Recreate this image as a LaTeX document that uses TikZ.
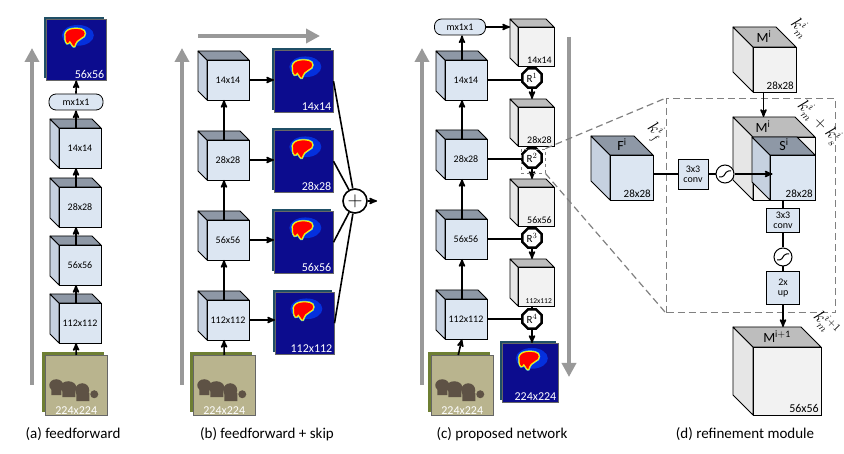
\documentclass[tikz,border=0pt]{standalone}
\usepackage{fontspec}
\setmainfont{Carlito}
\usetikzlibrary{arrows,arrows.meta,shapes.geometric}
\definecolor{cubeblue}{HTML}{DCE6F2}
\definecolor{cubebluel}{HTML}{C6D1E0}
\definecolor{cubebluet}{HTML}{8E98A6}
\definecolor{cubewhite}{HTML}{F2F2F2}
\definecolor{cubewhitel}{HTML}{E6E6E6}
\definecolor{cubewhitet}{HTML}{BDBDBD}
\definecolor{heatbg}{HTML}{0C0C8E}
\definecolor{heatedge}{HTML}{1F4F66}
\definecolor{arrowgray}{HTML}{999999}
\definecolor{photobg}{HTML}{B9B48E}
\definecolor{photoedge}{HTML}{6E7F33}
\newcommand{\cubefont}{\fontsize{10}{10}\selectfont}
% name, x, y, w, h, depth, colour, label, label anchor
\newcommand{\cube}[9]{%
  \fill[#7l,draw=black,line width=.8pt,line join=round] ({#2-#6},{#3-#6}) -- (#2,#3) -- (#2,{#3+#5}) -- ({#2-#6},{#3+#5-#6}) -- cycle;
  \fill[#7t,draw=black,line width=.8pt,line join=round] ({#2-#6},{#3-#6}) -- ({#2+#4-#6},{#3-#6}) -- ({#2+#4},#3) -- (#2,#3) -- cycle;
  \node[draw,line width=.8pt,fill=#7,anchor=north west,minimum width=#4,minimum height=#5,inner sep=0,outer sep=0] (#1) at (#2,#3) {};
  \node[anchor=#9,inner sep=2pt,font=\cubefont] at (#1.#9) {#8};
}
% name, x, y, w, h, label
\newcommand{\heat}[6]{%
  \fill[heatedge] ({#2-2},{#3-2}) rectangle ({#2+#4-2},{#3+#5-2});
  \node[fill=heatbg,draw=black!60,line width=.5pt,anchor=north west,minimum width=#4,minimum height=#5,inner sep=0] (#1) at (#2,#3) {};
  \begin{scope}[shift={(#1.center)},yshift=8pt,scale=.8]
    \fill[blue!75!cyan!70!heatbg] (2,-8) ellipse (20 and 13);
    \draw[cyan!70,line width=2pt,fill=red] (-14,-6) .. controls (-16,-16) and (-4,-18) .. (6,-16) .. controls (13,-15) and (13,-6) .. (6,-4) .. controls (2,-2) and (0,0) .. (-2,6) .. controls (-4,8) and (-6,2) .. (-8,0) .. controls (-10,4) and (-14,4) .. (-14,-6) -- cycle;
    \draw[yellow,line width=1pt,fill=red] (-14,-6) .. controls (-16,-16) and (-4,-18) .. (6,-16) .. controls (13,-15) and (13,-6) .. (6,-4) .. controls (2,-2) and (0,0) .. (-2,6) .. controls (-4,8) and (-6,2) .. (-8,0) .. controls (-10,4) and (-14,4) .. (-14,-6) -- cycle;
  \end{scope}
  \node[anchor=south east,inner sep=2pt,text=white,font=\fontsize{12}{12}\selectfont] at (#1.south east) {#6};
}
% name, x, y, w, h
\newcommand{\photo}[5]{%
  \fill[photoedge] ({#2-3},{#3-3}) rectangle ({#2+#4-3},{#3+#5-3});
  \node[fill=photobg,draw=black!60,line width=.5pt,anchor=north west,minimum width=#4,minimum height=#5,inner sep=0] (#1) at (#2,#3) {};
  \begin{scope}[shift={(#1.center)}]
    \fill[gray!55!black!80!brown] (-20,0) ellipse (7 and 6) (-8,2) ellipse (8 and 6) (6,5) ellipse (7 and 7) (18,9) ellipse (4 and 4);
    \fill[gray!55!black!80!brown] (-25,2) rectangle (-15,10) (-14,4) rectangle (-1,12) (0,8) rectangle (13,16);
  \end{scope}
  \node[anchor=south,inner sep=1pt,text=white,font=\fontsize{12}{12}\selectfont] at (#1.south) {224x224};
}
\newcommand{\sig}[2]{%
  \node[circle,draw,line width=1pt,fill=white,minimum size=18,inner sep=0] (#1) at (#2) {};
  \draw[line width=1pt,rounded corners=1.5pt] ([shift={(-6,3)}]#1.center) -- ++(4,0) -- ++(4,-6) -- ++(4,0);
}
\begin{document}
\begin{tikzpicture}[x=1pt,y=-1pt,>=stealth',
    arr/.style={->,line width=1.6pt},
    link/.style={line width=1.6pt},
    bigarr/.style={-{Triangle[length=14pt,width=14pt]},line width=4pt,arrowgray},
    pill/.style={draw,line width=.8pt,fill=cubeblue,rounded corners=7pt,minimum width=54,minimum height=16,inner sep=0,font=\cubefont},
    rnode/.style={regular polygon,regular polygon sides=8,draw,line width=2.5pt,fill=white,minimum size=21,inner sep=0,font=\fontsize{11}{11}\selectfont},
    op/.style={draw,line width=.8pt,fill=cubeblue,inner sep=1pt,align=center,font=\fontsize{10}{10}\selectfont},
    klabel/.style={rotate=-45,font=\fontsize{16}{16}\selectfont},
    caption/.style={font=\fontsize{15}{15}\selectfont}]
\useasboundingbox (0,0) rectangle (844,454);

% (a) feedforward
\coordinate (aup0) at (32,385);
\coordinate (aup1) at (32,48);
\draw[bigarr] (aup0) -- (aup1);
\heat{ah}{46}{19}{60}{61}{56x56}
\node[pill] (amx) at (76,102) {mx1x1};
\cube{a4}{59}{128}{42}{40}{9}{cubeblue}{14x14}{center}
\cube{a3}{59}{187}{42}{40}{9}{cubeblue}{28x28}{center}
\cube{a2}{59}{245}{42}{40}{9}{cubeblue}{56x56}{center}
\cube{a1}{59}{303}{42}{40}{9}{cubeblue}{112x112}{center}
\photo{aimg}{45}{355}{62}{60}
\draw[arr] (aimg.north) -- ([xshift=-4pt]a1.south);
\draw[arr] ([xshift=-4pt]a1.north) -- ([xshift=-4pt]a2.south);
\draw[arr] ([xshift=-4pt]a2.north) -- ([xshift=-4pt]a3.south);
\draw[arr] ([xshift=-4pt]a3.north) -- ([xshift=-4pt]a4.south);
\draw[arr] ([xshift=-4pt]a4.north) -- (amx.south);
\draw[arr] (amx.north) -- (ah.south);
\node[caption] (capa) at (73,434) {(a) feedforward};

% (b) feedforward + skip
\coordinate (bup0) at (182,385);
\coordinate (bup1) at (182,48);
\coordinate (bright0) at (198,36);
\coordinate (bright1) at (320,36);
\draw[bigarr] (bup0) -- (bup1);
\draw[bigarr] (bright0) -- (bright1);
\cube{b4}{207}{60}{42}{40}{9}{cubeblue}{14x14}{center}
\cube{b3}{207}{140}{42}{40}{9}{cubeblue}{28x28}{center}
\cube{b2}{207}{220}{42}{40}{9}{cubeblue}{56x56}{center}
\cube{b1}{207}{300}{42}{40}{9}{cubeblue}{112x112}{center}
\photo{bimg}{193}{355}{62}{60}
\heat{bh4}{274}{50}{59}{62}{14x14}
\heat{bh3}{274}{130}{59}{62}{28x28}
\heat{bh2}{274}{211}{59}{62}{56x56}
\heat{bh1}{275}{292}{59}{62}{112x112}
\node[circle,draw,line width=1.6pt,fill=white,minimum size=24,inner sep=0,font=\fontsize{22}{22}\selectfont] (plus) at (355,201) {$+$};
\coordinate (bout) at (377,201);
\draw[arr] (bimg.north) -- ([xshift=-4pt]b1.south);
\draw[arr] ([xshift=-4pt]b1.north) -- ([xshift=-4pt]b2.south);
\draw[arr] ([xshift=-4pt]b2.north) -- ([xshift=-4pt]b3.south);
\draw[arr] ([xshift=-4pt]b3.north) -- ([xshift=-4pt]b4.south);
\foreach \i in {1,...,4} {
  \draw[arr] (b\i.east) -- (b\i.east -| bh\i.west);
  \draw[link] (bh\i.east) -- (plus);
}
\draw[arr] (plus.east) -- (bout);
\node[caption] (capb) at (267,434) {(b) feedforward + skip};

% (c) proposed network
\coordinate (cup0) at (422,385);
\coordinate (cup1) at (422,48);
\coordinate (cdn0) at (569,37);
\coordinate (cdn1) at (569,377);
\draw[bigarr] (cup0) -- (cup1);
\draw[bigarr] (cdn0) -- (cdn1);
\node[pill,minimum width=51] (cmx) at (460,27) {mx1x1};
\cube{c4}{445}{60}{42}{40}{9}{cubeblue}{14x14}{center}
\cube{c3}{445}{139}{42}{40}{9}{cubeblue}{28x28}{center}
\cube{c2}{445}{219}{42}{40}{9}{cubeblue}{56x56}{center}
\cube{c1}{445}{299}{42}{40}{9}{cubeblue}{112x112}{center}
\photo{cimg}{431}{355}{62}{60}
\cube{w4}{518}{27}{36}{39}{8}{cubewhite}{14x14}{south east}
\cube{w3}{518}{107}{36}{39}{8}{cubewhite}{28x28}{south east}
\cube{w2}{518}{187}{36}{39}{8}{cubewhite}{56x56}{south east}
\cube{w1}{518}{267}{36}{39}{8}{cubewhite}{\fontsize{7.5}{7.5}\selectfont 112x112}{south east}
\heat{ch}{502}{343}{56}{59}{224x224}
\node[rnode] (r1) at (532,78) {R$^1$};
\node[rnode] (r2) at (532,158) {R$^2$};
\node[rnode] (r3) at (532,238) {R$^3$};
\node[rnode] (r4) at (532,319) {R$^4$};
\draw[arr] ([xshift=-4pt]cimg.north) -- ([xshift=-4pt]c1.south);
\draw[arr] ([xshift=-4pt]c1.north) -- ([xshift=-4pt]c2.south);
\draw[arr] ([xshift=-4pt]c2.north) -- ([xshift=-4pt]c3.south);
\draw[arr] ([xshift=-4pt]c3.north) -- ([xshift=-4pt]c4.south);
\draw[arr] ([xshift=-4pt]c4.north) -- ([xshift=-4pt]c4.north |- cmx.south);
\draw[arr] (cmx.east) -- ([xshift=-8pt]cmx.east -| w4.west);
\draw[link] (c4.east) -- (c4.east -| r1.west);
\draw[link] (c3.east) -- (c3.east -| r2.west);
\draw[link] (c2.east) -- (c2.east -| r3.west);
\draw[link] (c1.east) -- (c1.east -| r4.west);
\draw[link] (r1.north |- w4.south) -- (r1.north);
\draw[arr] (r1.south) -- ([yshift=8pt]r1.south |- w3.north);
\draw[arr] (r2.south) -- ([yshift=8pt]r2.south |- w2.north);
\draw[arr] (r3.south) -- ([yshift=8pt]r3.south |- w1.north);
\draw[arr] (r4.south) -- (r4.south |- ch.north);
\draw[link] (r2.north |- w3.south) -- (r2.north);
\draw[link] (r3.north |- w2.south) -- (r3.north);
\draw[link] (r4.north |- w1.south) -- (r4.north);
\node[draw=gray,dashed,line width=.8pt,minimum size=24,inner sep=0] (zbox) at (533,161) {};
\node[caption] (capc) at (502,434) {(c) proposed network};

% (d) refinement module
\node[draw=gray,dashed,dash pattern=on 7pt off 4pt,line width=1.2pt,anchor=north west,minimum width=169,minimum height=214,inner sep=0] (refbox) at (666,98) {};
\draw[gray,dash pattern=on 7pt off 4pt,line width=1.2pt] (zbox.north east) -- (refbox.north west);
\draw[gray,dash pattern=on 7pt off 4pt,line width=1.2pt] (zbox.south east) -- (refbox.south west);
\cube{mtop}{753}{47}{43}{45}{20}{cubewhite}{\fontsize{11}{11}\selectfont 28x28}{south east}
\node[font=\fontsize{14}{14}\selectfont] (mtoplbl) at (764,37) {M$^{\mathrm{i}}$};
\node[klabel] (kmtop) at (800,28) {$k_m^i$};
\cube{mmid}{753}{137}{62}{63}{20}{cubewhite}{}{center}
\node[font=\fontsize{14}{14}\selectfont] (mmidlbl) at (763,127) {M$^{\mathrm{i}}$};
\cube{smid}{770}{155}{45}{45}{18}{cubeblue}{\fontsize{11}{11}\selectfont 28x28}{south east}
\node[font=\fontsize{14}{14}\selectfont] (smidlbl) at (784,145) {S$^{\mathrm{i}}$};
\node[klabel] (kms) at (819,122) {$k_m^i + k_s^i$};
\cube{fi}{610}{155}{43}{45}{19}{cubeblue}{\fontsize{11}{11}\selectfont 28x28}{south east}
\node[font=\fontsize{14}{14}\selectfont] (filbl) at (622,145) {F$^{\mathrm{i}}$};
\node[klabel] (kf) at (655,132) {$k_f^i$};
\node[op,minimum width=30,minimum height=30] (conv1) at (693,174) {3x3\\conv};
\sig{sig1}{725,174}
\node[op,minimum width=33,minimum height=24] (conv2) at (783,220) {3x3\\conv};
\sig{sig2}{783,257}
\node[op,minimum width=33,minimum height=33] (up) at (783,288) {2x\\up};
\cube{mbot}{753}{347}{68}{68}{20}{cubewhite}{\fontsize{12}{12}\selectfont 56x56}{south east}
\node[font=\fontsize{14}{14}\selectfont] (mbotlbl) at (777,337) {M$^{\mathrm{i+1}}$};
\node[klabel] (kmbot) at (826,324) {$k_m^{i+1}$};
\draw[arr] ([xshift=-11pt]mtop.south) -- ++(0,25);
\draw[link] (fi.east |- conv1.west) -- (conv1.west);
\draw[link] (conv1.east) -- (sig1.west);
\draw[arr] (sig1.east) -- ++(38,0);
\draw[link] (conv2.north |- smid.south) -- (conv2.north);
\draw[link] (conv2.south) -- (sig2.north);
\draw[link] (sig2.south) -- (up.north);
\draw[arr] (up.south) -- ([yshift=20pt]up.south |- mbot.north);
\node[caption] (capd) at (745,434) {(d) refinement module};
\end{tikzpicture}
\end{document}
